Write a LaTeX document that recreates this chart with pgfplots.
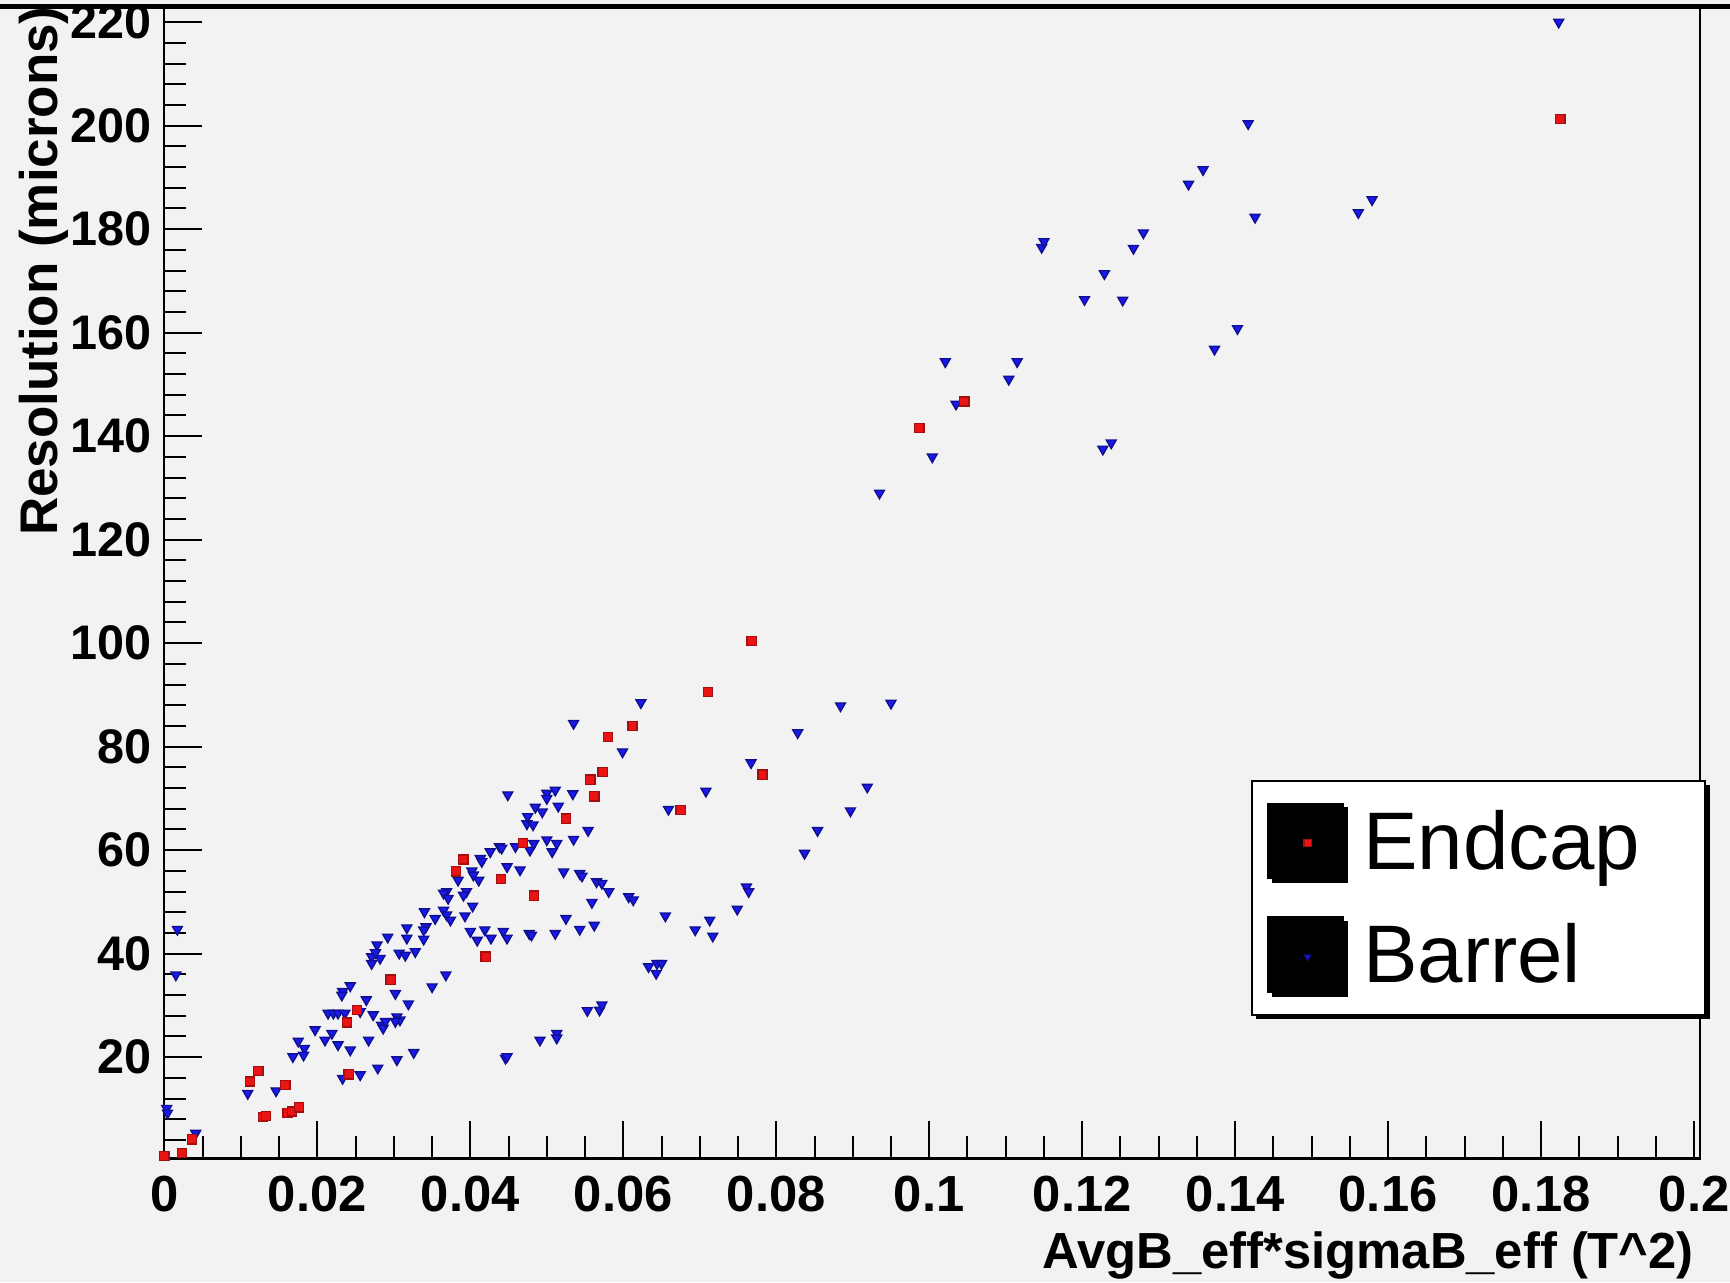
\documentclass[border=0pt]{standalone}
\usepackage{fontspec}
\setmainfont{Liberation Sans}
\usepackage{pgfplots}
\usepackage{pgfplotstable}
\pgfplotsset{compat=1.18}
\usetikzlibrary{shadows}

\definecolor{canvas}{RGB}{242,242,242}
\definecolor{rootred}{RGB}{235,20,20}
\definecolor{rootblue}{RGB}{25,25,235}

\pgfplotstableread{
x y
0.0000 0.9
0.0023 1.5
0.0036 4.1
0.0112 15.3
0.0123 17.3
0.0129 8.4
0.0133 8.6
0.0158 14.6
0.0161 9.2
0.0167 9.5
0.0176 10.3
0.0239 26.7
0.0241 16.7
0.0252 29.1
0.0296 35.0
0.0381 55.9
0.0391 58.2
0.0420 39.4
0.0440 54.4
0.0469 61.4
0.0483 51.2
0.0525 66.1
0.0557 73.6
0.0562 70.4
0.0573 75.1
0.0580 81.9
0.0612 84.0
0.0675 67.8
0.0711 90.6
0.0768 100.4
0.0782 74.6
0.0987 141.6
0.1046 146.7
0.1825 201.3
}\endcap

\pgfplotstableread{
x y
0.0003 10.1
0.0004 9.2
0.0015 35.9
0.0017 44.7
0.0041 5.3
0.0109 13.0
0.0146 13.5
0.0168 20.1
0.0175 23.1
0.0183 21.7
0.0182 20.4
0.0197 25.3
0.0219 24.6
0.0210 23.3
0.0227 22.4
0.0243 21.4
0.0267 23.3
0.0214 28.5
0.0221 28.5
0.0227 28.5
0.0236 28.5
0.0256 28.8
0.0273 28.2
0.0284 26.2
0.0286 25.6
0.0289 26.9
0.0304 27.8
0.0308 27.2
0.0302 26.9
0.0326 20.9
0.0304 19.5
0.0279 17.9
0.0256 16.6
0.0233 15.9
0.0243 33.8
0.0233 32.7
0.0232 32.0
0.0264 31.1
0.0302 32.3
0.0319 30.3
0.0350 33.6
0.0368 35.9
0.0278 41.7
0.0271 39.4
0.0282 39.1
0.0271 38.1
0.0276 40.2
0.0292 43.2
0.0307 40.1
0.0315 39.7
0.0328 40.4
0.0317 45.0
0.0317 43.0
0.0339 42.8
0.0342 45.2
0.0339 44.6
0.0340 48.1
0.0354 46.8
0.0365 48.4
0.0369 47.5
0.0374 46.5
0.0393 47.3
0.0403 49.2
0.0369 52.0
0.0365 51.7
0.0371 50.7
0.0395 52.0
0.0391 51.3
0.0384 54.2
0.0402 56.0
0.0404 55.2
0.0411 54.2
0.0413 58.4
0.0415 57.8
0.0426 59.7
0.0438 60.7
0.0441 60.4
0.0459 60.7
0.0448 56.8
0.0465 56.2
0.0478 60.0
0.0483 61.3
0.0500 62.0
0.0513 61.3
0.0507 59.7
0.0535 62.1
0.0554 63.8
0.0474 65.1
0.0482 64.9
0.0475 66.5
0.0485 68.3
0.0494 67.4
0.0515 68.5
0.0449 70.7
0.0500 71.0
0.0511 71.6
0.0500 70.0
0.0534 70.9
0.0535 84.5
0.0599 79.0
0.0623 88.5
0.0400 44.3
0.0409 42.6
0.0419 44.6
0.0427 43.0
0.0443 44.3
0.0448 43.0
0.0477 43.9
0.0480 43.6
0.0511 43.9
0.0525 46.8
0.0543 44.7
0.0562 45.5
0.0559 49.9
0.0522 55.8
0.0543 55.5
0.0546 55.0
0.0565 53.9
0.0572 53.6
0.0581 52.0
0.0607 51.0
0.0613 50.4
0.0446 19.8
0.0448 20.1
0.0491 23.3
0.0513 24.6
0.0513 23.7
0.0553 29.0
0.0569 29.1
0.0572 30.1
0.0633 37.5
0.0644 38.1
0.0650 38.1
0.0643 36.2
0.0655 47.3
0.0659 67.9
0.0694 44.6
0.0713 46.5
0.0717 43.4
0.0708 71.4
0.0749 48.6
0.0761 52.9
0.0764 52.0
0.0767 76.9
0.0828 82.7
0.0837 59.4
0.0854 63.8
0.0884 87.9
0.0897 67.6
0.0919 72.2
0.0950 88.4
0.0935 129.0
0.1004 136.0
0.1035 146.2
0.1021 154.4
0.1104 151.0
0.1115 154.4
0.1147 176.5
0.1150 177.6
0.1203 166.4
0.1227 137.5
0.1238 138.7
0.1229 171.4
0.1253 166.3
0.1267 176.3
0.1280 179.3
0.1339 188.7
0.1358 191.5
0.1373 156.8
0.1403 160.8
0.1417 200.4
0.1426 182.3
0.1561 183.2
0.1579 185.7
0.1823 220.0
}\barrel

\begin{document}
\begin{tikzpicture}
\fill[canvas] (0,0) rectangle (392pt,290.5pt);
\useasboundingbox (0,0) rectangle (392pt,290.5pt);
\begin{axis}[
  at={(37.25pt,28pt)}, anchor=south west,
  width=348pt, height=260.75pt, scale only axis,
  xmin=0, xmax=0.2008, ymin=0.43, ymax=222.8,
  axis background/.style={fill=canvas},
  axis line style={black, line width=0.5pt},
  tick align=inside, xtick pos=bottom, ytick pos=left,
  major tick length=8.5pt, minor tick length=5pt,
  tick style={black, line width=0.45pt},
  xtick={0,0.02,0.04,0.06,0.08,0.1,0.12,0.14,0.16,0.18,0.2},
  xticklabels={0,0.02,0.04,0.06,0.08,0.1,0.12,0.14,0.16,0.18,0.2},
  minor xtick={0.005,0.01,0.015,0.025,0.03,0.035,0.045,0.05,0.055,0.065,0.07,0.075,0.085,0.09,0.095,0.105,0.11,0.115,0.125,0.13,0.135,0.145,0.15,0.155,0.165,0.17,0.175,0.185,0.19,0.195},
  ytick={20,40,60,80,100,120,140,160,180,200,220},
  yticklabels={20,40,60,80,100,120,140,160,180,200,220},
  minor ytick={4,8,12,16,24,28,32,36,44,48,52,56,64,68,72,76,84,88,92,96,104,108,112,116,124,128,132,136,144,148,152,156,164,168,172,176,184,188,192,196,204,208,212,216},
  xticklabel style={font=\fontsize{11.5}{13}\selectfont\bfseries, inner sep=0pt, anchor=north, yshift=-3.75pt},
  yticklabel style={font=\fontsize{11}{13}\selectfont\bfseries, inner sep=0pt, anchor=east, xshift=-2.75pt},
  xlabel={AvgB\textunderscore eff*sigmaB\textunderscore eff (T\textasciicircum 2)},
  xlabel style={font=\fontsize{11.5}{13}\selectfont\bfseries, inner sep=0pt, at={(rel axis cs:1,0)}, anchor=base east, xshift=-1.25pt, yshift=-25pt},
  ylabel={Resolution (microns)},
  ylabel style={font=\fontsize{12}{13}\selectfont\bfseries, inner sep=0pt, at={(rel axis cs:0,1)}, anchor=east, xshift=0.5pt, yshift=27.25pt},
  reverse legend,
  legend image code/.code={
    \fill[black] (0pt,-7.875pt) rectangle (16.75pt,8.875pt);
    \draw[mark repeat=1,mark phase=1,#1,mark size=0.8pt] plot coordinates {(8.875pt,0pt)};
  },
  legend style={
    at={(rel axis cs:0.7074,0.3292)}, anchor=north west,
    fill=white, draw=black, line width=0.5pt,
    drop shadow={shadow xshift=1pt, shadow yshift=-1pt, fill=black, opacity=1},
    font=\fontsize{18.5}{20}\selectfont,
    inner xsep=3.5pt, inner ysep=5pt,
    row sep=8.5pt,
    /tikz/every odd column/.append style={column sep=4.5pt},
    nodes={inner sep=0pt, text width=74pt},
  },
  legend cell align=left,
]
\addplot[only marks, mark=triangle*, mark size=1.3pt,
  mark options={rotate=180, fill=rootblue, draw=rootblue!60!black, line width=0.3pt}]
  table {\barrel};
\addlegendentry{Barrel}
\addplot[only marks, mark=square*, mark size=1.05pt,
  mark options={fill=rootred, draw=rootred!70!black, line width=0.3pt}]
  table {\endcap};
\addlegendentry{Endcap}
\end{axis}
\draw[black, line width=1pt] (0,289pt) -- (392pt,289pt);
\end{tikzpicture}
\end{document}
